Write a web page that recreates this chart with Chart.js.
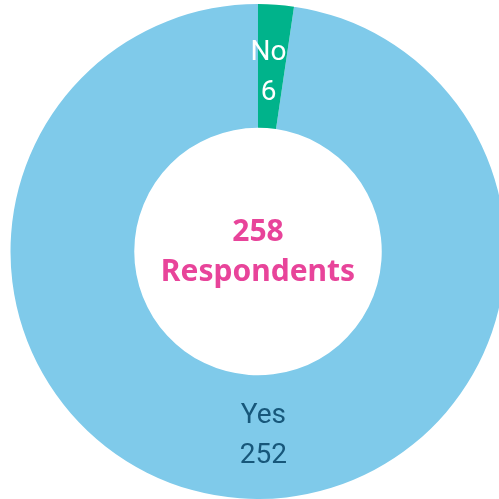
<!DOCTYPE html>
<html>
<head>
<meta charset="utf-8">
<script src="https://cdn.jsdelivr.net/npm/chart.js@4.4.1/dist/chart.umd.min.js"></script>
<style>
  html, body { margin: 0; padding: 0; background: #fff; overflow: hidden; }
  #wrap { position: absolute; left: 0; top: 4px; width: 516px; height: 495px; }
</style>
</head>
<body>
<div id="wrap"><canvas id="chart"></canvas></div>
<script>
const categories = ['Yes', 'No'];
const respondents = [252, 6];
const sliceColors = ['#7fcaea', '#00b38b'];
const labelColors = ['#17577a', '#ffffff'];
// nudges so labels sit where the original put them
const labelShift = [[19, -1], [-3, 7]];

const centerText = {
    id: 'centerText',
    afterDraw(chart) {
        const { ctx, chartArea } = chart;
        const cx = (chartArea.left + chartArea.right) / 2;
        const cy = (chartArea.top + chartArea.bottom) / 2;
        const total = respondents.reduce((a, b) => a + b, 0);
        ctx.save();
        ctx.fillStyle = '#e8449a';
        ctx.textAlign = 'center';
        ctx.textBaseline = 'middle';
        ctx.font = 'bold 30px "Noto Sans", sans-serif';
        ctx.fillText(String(total), cx, cy - 19);
        ctx.fillText('Respondents', cx, cy + 21);
        ctx.restore();
    }
};

const sliceLabels = {
    id: 'sliceLabels',
    afterDatasetsDraw(chart) {
        const { ctx } = chart;
        const meta = chart.getDatasetMeta(0);
        ctx.save();
        ctx.textAlign = 'center';
        ctx.textBaseline = 'middle';
        ctx.font = '400 28px Roboto, sans-serif';
        meta.data.forEach((arc, i) => {
            const p = arc.tooltipPosition();
            const x = p.x + labelShift[i][0];
            const y = p.y + labelShift[i][1];
            ctx.fillStyle = labelColors[i];
            ctx.fillText(categories[i], x, y - 20);
            ctx.fillText(String(respondents[i]), x, y + 20);
        });
        ctx.restore();
    }
};

new Chart(document.getElementById('chart'), {
    type: 'doughnut',
    data: {
        labels: categories,
        datasets: [{
            data: respondents,
            backgroundColor: sliceColors,
            borderWidth: 0
        }]
    },
    options: {
        responsive: true,
        maintainAspectRatio: false,
        animation: false,
        cutout: '50%',
        rotation: 8.37,
        layout: { padding: 0 },
        plugins: {
            legend: { display: false },
            tooltip: { enabled: false }
        }
    },
    plugins: [sliceLabels, centerText]
});
</script>
</body>
</html>
